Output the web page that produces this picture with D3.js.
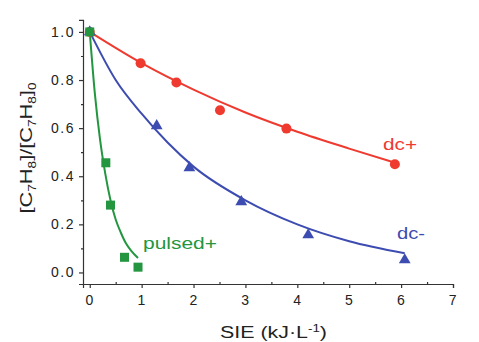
<!DOCTYPE html>
<html>
<head>
<meta charset="utf-8">
<script src="https://cdn.jsdelivr.net/npm/d3@7"></script>
<style>
  body { margin: 0; background: #fff; }
  svg { font-family: "Liberation Sans", Arial, sans-serif; }
</style>
</head>
<body>
<div id="chart"></div>
<script>
// measured points
var dcPlusX = [0, 0.98, 1.67, 2.51, 3.79, 5.88];
var dcPlusY = [1.0, 0.87, 0.79, 0.674, 0.598, 0.45];
var dcMinusX = [0, 1.29, 1.92, 2.92, 4.21, 6.07];
var dcMinusY = [1.0, 0.61, 0.435, 0.294, 0.156, 0.052];
var pulsedX = [0, 0.31, 0.40, 0.67, 0.93];
var pulsedY = [1.0, 0.456, 0.28, 0.063, 0.022];

// fitted curves
var dcPlusFitX = [0, 1, 2, 3, 4, 5, 5.9];
var dcPlusFitY = [1.0, 0.87, 0.76, 0.665, 0.585, 0.515, 0.455];
var dcMinusFitX = [0, 0.5, 1, 1.5, 2, 3, 4, 5, 6.07];
var dcMinusFitY = [1.0, 0.80, 0.66, 0.54, 0.44, 0.30, 0.20, 0.13, 0.08];
var pulsedFitX = [0, 0.1, 0.2, 0.3, 0.4, 0.5, 0.6, 0.7, 0.8, 0.93];
var pulsedFitY = [1.0, 0.74, 0.55, 0.41, 0.30, 0.22, 0.165, 0.12, 0.09, 0.06];

var xTicks = [0, 1, 2, 3, 4, 5, 6, 7];
var yTicks = [0, 0.2, 0.4, 0.6, 0.8, 1.0];

var W = 479, H = 342;
var red = "#ef3a30", blue = "#3d4cb0", green = "#23963f", axisCol = "#333";

var svg = d3.select("#chart").append("svg").attr("width", W).attr("height", H);

var x = d3.scaleLinear().domain([-0.13, 7]).range([83, 453]);
var y = d3.scaleLinear().domain([-0.048, 1.05]).range([284, 19.9]);

function pairs(xs, ys) { return xs.map(function(v, i) { return [v, ys[i]]; }); }

// axes
var xAxis = d3.axisBottom(x).tickValues(xTicks).tickFormat(d3.format("d")).tickSize(4).tickPadding(7);
var xMinor = d3.axisBottom(x).tickValues(d3.range(0.5, 7, 1)).tickFormat("").tickSize(-2);
var yAxis = d3.axisLeft(y).tickValues(yTicks).tickFormat(d3.format(".1f")).tickSize(4).tickPadding(4);
var yMinor = d3.axisLeft(y).tickValues(d3.range(0.1, 1.0, 0.2)).tickFormat("").tickSize(2);

function styleAxis(g) {
  g.selectAll("path").attr("stroke", axisCol).attr("stroke-width", 1.2);
  g.selectAll("line").attr("stroke", axisCol).attr("stroke-width", 1.2);
  g.selectAll("text").attr("fill", "#222").style("font-size", "14px").style("letter-spacing", "1.5px");
}

svg.append("g").attr("transform", "translate(0,284)").call(xAxis).call(styleAxis);
svg.append("g").attr("transform", "translate(0,284)").call(xMinor).call(styleAxis)
  .select(".domain").remove();
svg.append("g").attr("transform", "translate(83,0)").call(yAxis).call(styleAxis);
svg.append("g").attr("transform", "translate(83,0)").call(yMinor).call(styleAxis)
  .select(".domain").remove();

// axis titles
var xt = svg.append("text").attr("x", 220).attr("y", 338)
  .attr("textLength", 107).attr("lengthAdjust", "spacingAndGlyphs")
  .style("font-size", "16px").attr("fill", "#222");
xt.append("tspan").text("SIE (kJ·L");
xt.append("tspan").attr("dy", -6).style("font-size", "10px").text("-1");
xt.append("tspan").attr("dy", 6).text(")");

var yt = svg.append("text").attr("transform", "translate(32,148) rotate(-90)")
  .attr("text-anchor", "middle").attr("textLength", 131).attr("lengthAdjust", "spacingAndGlyphs")
  .style("font-size", "16px").attr("fill", "#222");
var parts = [["[C", 0], ["7", 1], ["H", 0], ["8", 1], ["]/[C", 0], ["7", 1], ["H", 0], ["8", 1], ["]", 0], ["0", 1]];
var prev = 0;
parts.forEach(function(p) {
  var dy = p[1] ? 4 : 0;
  yt.append("tspan").attr("dy", dy - prev).style("font-size", p[1] ? "10px" : "16px").text(p[0]);
  prev = dy;
});

// fit lines
var line = d3.line().x(function(d) { return x(d[0]); }).y(function(d) { return y(d[1]); })
  .curve(d3.curveMonotoneX);
[[dcPlusFitX, dcPlusFitY, red], [dcMinusFitX, dcMinusFitY, blue], [pulsedFitX, pulsedFitY, green]]
  .forEach(function(s) {
    svg.append("path").datum(pairs(s[0], s[1])).attr("d", line)
      .attr("fill", "none").attr("stroke", s[2]).attr("stroke-width", 2);
  });

// markers
svg.selectAll(".c").data(pairs(dcPlusX, dcPlusY)).enter().append("circle")
  .attr("cx", function(d) { return x(d[0]); }).attr("cy", function(d) { return y(d[1]); })
  .attr("r", 5).attr("fill", red);

var tri = d3.symbol().type(d3.symbolTriangle).size(60);
svg.selectAll(".t").data(pairs(dcMinusX, dcMinusY)).enter().append("path")
  .attr("transform", function(d) { return "translate(" + x(d[0]) + "," + y(d[1]) + ")"; })
  .attr("d", tri).attr("fill", blue);

svg.selectAll(".s").data(pairs(pulsedX, pulsedY)).enter().append("rect")
  .attr("x", function(d) { return x(d[0]) - 4.5; }).attr("y", function(d) { return y(d[1]) - 4.5; })
  .attr("width", 9).attr("height", 9).attr("fill", green);

// series labels
function label(text, lx, ly, len, col) {
  svg.append("text").attr("x", lx).attr("y", ly).attr("textLength", len)
    .attr("lengthAdjust", "spacingAndGlyphs").style("font-size", "16px").attr("fill", col).text(text);
}
label("dc+", 383, 150, 34, red);
label("dc-", 397, 239, 28, blue);
label("pulsed+", 143, 249, 74, green);
</script>
</body>
</html>
